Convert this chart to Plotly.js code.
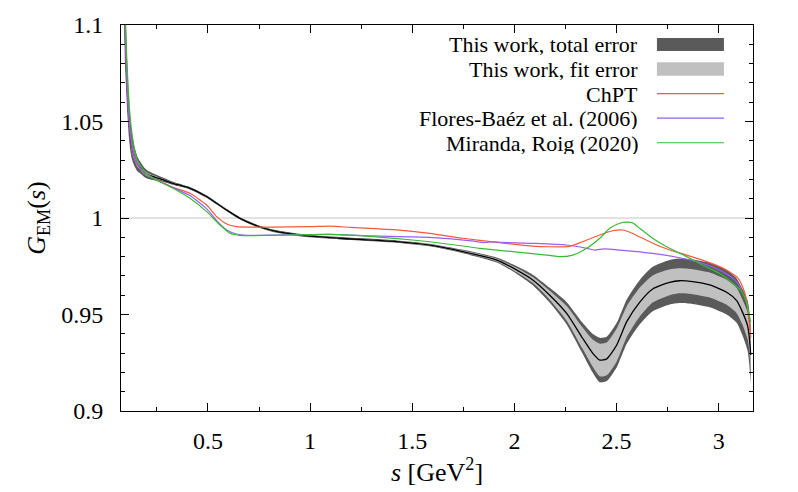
<!DOCTYPE html>
<html>
<head>
<meta charset="utf-8">
<script src="https://cdn.plot.ly/plotly-3.0.1.min.js"></script>
<style>html,body{margin:0;padding:0;background:#fff;}#chart{width:798px;height:492px;}</style>
</head>
<body>
<div id="chart"></div>
<script>
// ---- Data ----
// "This work" central value and errors
const sWork = [0.080,0.088,0.094,0.099,0.105,0.113,0.120,0.128,0.140,0.155,0.170,0.190,0.210,0.250,0.265,0.329,0.412,0.495,0.543,0.592,0.657,0.740,0.818,0.984,1.146,1.424,1.586,1.748,1.914,2.012,2.090,2.173,2.256,2.334,2.383,2.418,2.452,2.501,2.550,2.613,2.677,2.760,2.809,2.872,2.956,3.039,3.088,3.117,3.142,3.150,3.157];
const gWork = [1.220,1.135,1.100,1.084,1.068,1.052,1.043,1.037,1.032,1.028,1.026,1.0235,1.0222,1.0208,1.0204,1.0180,1.0154,1.0110,1.0076,1.0041,0.9998,0.9959,0.9934,0.9907,0.9895,0.9878,0.9860,0.9826,0.9782,0.9730,0.9679,0.9600,0.9506,0.9377,0.9300,0.9264,0.9270,0.9342,0.9463,0.9563,0.9632,0.9667,0.9675,0.9670,0.9653,0.9615,0.9572,0.9511,0.9440,0.9380,0.9290];
const errTotal = [0.020,0.020,0.020,0.016,0.013,0.010,0.008,0.0065,0.005,0.0038,0.003,0.0024,0.002,0.0015,0.0012,0.0008,0.0006,0.0006,0.0006,0.0006,0.0006,0.0006,0.0006,0.0006,0.0006,0.0006,0.0007,0.0009,0.0013,0.0020,0.0027,0.0038,0.0058,0.0080,0.0100,0.0115,0.0115,0.0115,0.0115,0.0115,0.0115,0.0115,0.0115,0.0115,0.0115,0.0115,0.0115,0.0120,0.0130,0.0140,0.0150];
const errFit = [0.008,0.008,0.008,0.006,0.005,0.004,0.003,0.0025,0.002,0.0015,0.0012,0.001,0.0008,0.0006,0.0005,0.0004,0.0003,0.0003,0.0003,0.0003,0.0003,0.0003,0.0003,0.0003,0.0003,0.0003,0.0004,0.0005,0.0007,0.0011,0.0015,0.0023,0.0038,0.0055,0.0070,0.0085,0.0085,0.0085,0.0080,0.0075,0.0070,0.0067,0.0065,0.0065,0.0065,0.0065,0.0065,0.0065,0.0070,0.0070,0.0080];

// ChPT
const sChPT = [0.080,0.088,0.094,0.099,0.105,0.113,0.120,0.128,0.140,0.155,0.170,0.190,0.210,0.250,0.265,0.329,0.412,0.494,0.543,0.592,0.640,0.700,0.818,1.000,1.097,1.200,1.424,1.586,1.748,1.914,2.075,2.173,2.270,2.334,2.418,2.481,2.530,2.579,2.677,2.760,2.843,2.921,3.005,3.054,3.093,3.117,3.137,3.151,3.157];
const gChPT = [1.220,1.135,1.100,1.084,1.068,1.052,1.044,1.038,1.032,1.028,1.0255,1.0235,1.022,1.0198,1.0190,1.0159,1.0128,1.0067,1.0007,0.9969,0.9955,0.9953,0.9953,0.9955,0.9958,0.9951,0.9938,0.9920,0.9895,0.9874,0.9856,0.9851,0.9853,0.9877,0.9912,0.9934,0.9938,0.9920,0.9869,0.9834,0.9808,0.9782,0.9748,0.9720,0.9690,0.9644,0.9575,0.9440,0.9380];

// Flores-Baéz et al. (2006)
const sFlores = [0.080,0.088,0.094,0.099,0.105,0.113,0.120,0.128,0.140,0.155,0.170,0.190,0.210,0.250,0.265,0.329,0.412,0.494,0.543,0.592,0.640,0.690,0.800,1.097,1.307,1.586,1.800,1.850,1.890,1.930,2.075,2.256,2.354,2.393,2.440,2.516,2.677,2.809,2.921,3.005,3.069,3.093,3.110];
const gFlores = [1.220,1.135,1.100,1.084,1.068,1.052,1.044,1.038,1.032,1.028,1.0255,1.0235,1.022,1.0198,1.0188,1.0157,1.0116,1.0047,0.9986,0.9938,0.9917,0.9910,0.9911,0.9915,0.9907,0.9900,0.9880,0.9872,0.9876,0.9874,0.9869,0.9860,0.9843,0.9834,0.9840,0.9834,0.9817,0.9794,0.9765,0.9730,0.9688,0.9662,0.9630];

// Miranda, Roig (2020)
const sMiranda = [0.080,0.090,0.097,0.103,0.110,0.118,0.128,0.140,0.155,0.170,0.190,0.210,0.250,0.265,0.329,0.412,0.494,0.559,0.608,0.657,0.800,1.097,1.307,1.586,1.831,2.075,2.173,2.222,2.286,2.354,2.418,2.467,2.516,2.550,2.579,2.613,2.677,2.745,2.843,2.921,3.005,3.069,3.112,3.137,3.147,3.157];
const gMiranda = [1.250,1.150,1.100,1.082,1.067,1.054,1.044,1.036,1.030,1.027,1.024,1.022,1.0195,1.0188,1.0154,1.0102,1.0033,0.9964,0.9921,0.9910,0.9910,0.9915,0.9904,0.9877,0.9843,0.9817,0.9806,0.9800,0.9808,0.9843,0.9895,0.9947,0.9973,0.9979,0.9975,0.9947,0.9895,0.9851,0.9800,0.9756,0.9713,0.9662,0.9620,0.9560,0.9510,0.9460];

const legendLabels = ["This work, total error","This work, fit error","ChPT","Flores-Baéz et al. (2006)","Miranda, Roig (2020)"];
const xTickVals = [0.5,1,1.5,2,2.5,3];
const xTickText = ["0.5","1","1.5","2","2.5","3"];
const yTickVals = [0.9,0.95,1,1.05,1.1];
const yTickText = ["0.9","0.95","1","1.05","1.1"];

// ---- Styling ----
const FONT = "Liberation Serif, Times New Roman, serif";
const cDark = "#5a5a5a", cLight = "#c0c0c0";
const cRed = "#f4593a", cPurple = "#9b5cf6", cGreen = "#36bb36";
const SM = 0.6;

const totUp = gWork.map((v, i) => v + errTotal[i]);
const totLo = gWork.map((v, i) => v - errTotal[i]);
const fitUp = gWork.map((v, i) => v + errFit[i]);
const fitLo = gWork.map((v, i) => v - errFit[i]);

function edge(y, color, fill) {
  const t = {x: sWork, y: y, type: "scatter", mode: "lines", line: {width: 0, color: color, shape: "spline", smoothing: SM}, showlegend: false, hoverinfo: "skip"};
  if (fill) { t.fill = "tonexty"; t.fillcolor = color; }
  return t;
}

const traces = [
  edge(totLo, cDark, false),
  edge(totUp, cDark, true),
  edge(fitLo, cLight, false),
  edge(fitUp, cLight, true),
  {x: sWork, y: gWork, type: "scatter", mode: "lines", line: {color: "#000", width: 1.3, shape: "spline", smoothing: SM}, showlegend: false},
  {x: sChPT, y: gChPT, type: "scatter", mode: "lines", line: {color: cRed, width: 1.2, shape: "spline", smoothing: SM}, showlegend: false},
  {x: sFlores, y: gFlores, type: "scatter", mode: "lines", line: {color: cPurple, width: 1.2, shape: "spline", smoothing: SM}, showlegend: false},
  {x: sMiranda, y: gMiranda, type: "scatter", mode: "lines", line: {color: cGreen, width: 1.2, shape: "spline", smoothing: SM}, showlegend: false}
];

// legend (text right-aligned, samples on the right) in paper coordinates
const rowY = [0.9495, 0.886, 0.822, 0.759, 0.695];
const sampleX0 = 0.848, sampleX1 = 0.954, textX = 0.8212;
const annotations = legendLabels.map((t, i) => ({
  xref: "paper", yref: "paper", x: textX, y: rowY[i], xanchor: "right", yanchor: "middle",
  height: 22, valign: "middle",
  text: t, showarrow: false, font: {family: FONT, size: 22, color: "#000"}
}));
const shapes = [
  {type: "line", xref: "paper", yref: "y", x0: 0, x1: 1, y0: 1, y1: 1, line: {color: "#c4c4c4", width: 1}, layer: "below"},
  {type: "rect", xref: "paper", yref: "paper", x0: sampleX0, x1: sampleX1, y0: rowY[0] - 0.0168, y1: rowY[0] + 0.0168, fillcolor: cDark, line: {width: 0}},
  {type: "rect", xref: "paper", yref: "paper", x0: sampleX0, x1: sampleX1, y0: rowY[1] - 0.0175, y1: rowY[1] + 0.0175, fillcolor: cLight, line: {width: 0}},
  {type: "line", xref: "paper", yref: "paper", x0: sampleX0, x1: sampleX1, y0: rowY[2], y1: rowY[2], line: {color: cRed, width: 1.2}},
  {type: "line", xref: "paper", yref: "paper", x0: sampleX0, x1: sampleX1, y0: rowY[3], y1: rowY[3], line: {color: cPurple, width: 1.2}},
  {type: "line", xref: "paper", yref: "paper", x0: sampleX0, x1: sampleX1, y0: rowY[4], y1: rowY[4], line: {color: cGreen, width: 1.2}}
];

const layout = {
  width: 798, height: 492,
  margin: {l: 121, r: 45, t: 25, b: 81, pad: 0},
  paper_bgcolor: "#fff", plot_bgcolor: "#fff",
  showlegend: false, hovermode: false,
  font: {family: FONT, size: 24, color: "#000"},
  xaxis: {
    range: [0.0745, 3.168], tickmode: "array", tickvals: xTickVals, ticktext: xTickText,
    ticks: "inside", ticklen: 8, tickwidth: 1, tickcolor: "#000",
    minor: {dtick: 0.25, tick0: 0, ticks: "inside", ticklen: 4, tickcolor: "#000"},
    showgrid: false, zeroline: false, showline: true, linecolor: "#000", linewidth: 1, mirror: "ticks",
    tickfont: {family: FONT, size: 24}, ticklabelstandoff: 8,
    title: {text: "<i>s</i> [GeV<sup>2</sup>]", font: {family: FONT, size: 26}, standoff: 8}
  },
  yaxis: {
    range: [0.9, 1.1], tickmode: "array", tickvals: yTickVals, ticktext: yTickText,
    ticks: "inside", ticklen: 8, tickwidth: 1, tickcolor: "#000",
    minor: {dtick: 0.01, tick0: 0.9, ticks: "inside", ticklen: 4, tickcolor: "#000"},
    showgrid: false, zeroline: false, showline: true, linecolor: "#000", linewidth: 1, mirror: "ticks",
    tickfont: {family: FONT, size: 24}, ticklabelstandoff: 12,
    title: {text: "<i>G</i><sub>EM</sub>(<i>s</i>)", font: {family: FONT, size: 26}, standoff: 8}
  },
  annotations: annotations,
  shapes: shapes
};

Plotly.newPlot("chart", traces, layout, {staticPlot: true, displayModeBar: false});
</script>
</body>
</html>
